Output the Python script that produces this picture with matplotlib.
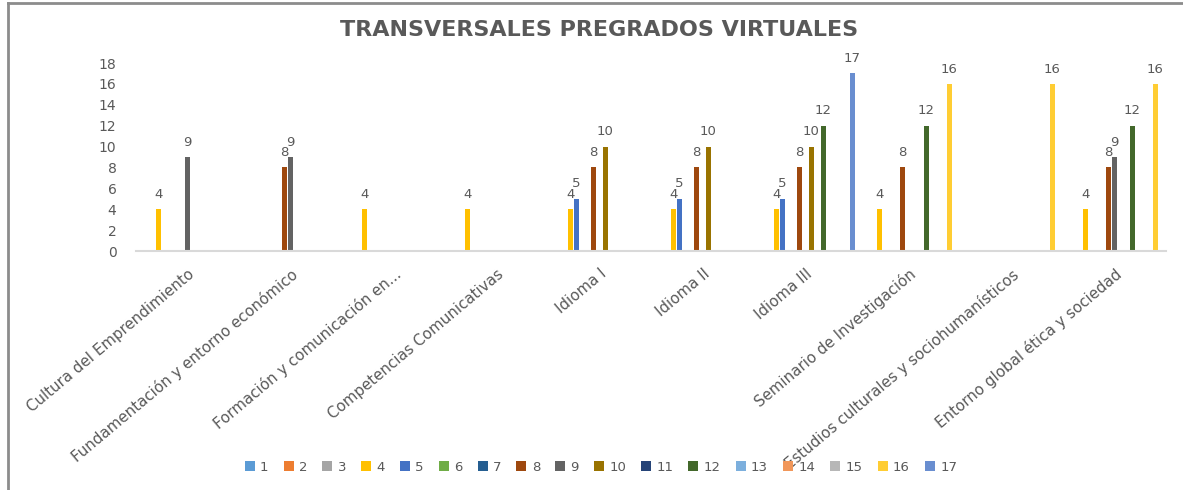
import numpy as np
import matplotlib
matplotlib.use('Agg')
import matplotlib.pyplot as plt
from matplotlib.lines import Line2D
from matplotlib.patches import Patch

# categories (x axis)
categories = ['Cultura del Emprendimiento',
              'Fundamentación y entorno económico',
              'Formación y comunicación en...',
              'Competencias Comunicativas',
              'Idioma I',
              'Idioma II',
              'Idioma III',
              'Seminario de Investigación',
              'Estudios culturales y sociohumanísticos',
              'Entorno global ética y sociedad']

# series values per category (None = no bar)
N = None
s1 = [N, N, N, N, N, N, N, N, N, N]
s2 = [N, N, N, N, N, N, N, N, N, N]
s3 = [N, N, N, N, N, N, N, N, N, N]
s4 = [4, N, 4, 4, 4, 4, 4, 4, N, 4]
s5 = [N, N, N, N, 5, 5, 5, N, N, N]
s6 = [N, N, N, N, N, N, N, N, N, N]
s7 = [N, N, N, N, N, N, N, N, N, N]
s8 = [N, 8, N, N, 8, 8, 8, 8, N, 8]
s9 = [9, 9, N, N, N, N, N, N, N, 9]
s10 = [N, N, N, N, 10, 10, 10, N, N, N]
s11 = [N, N, N, N, N, N, N, N, N, N]
s12 = [N, N, N, N, N, N, 12, 12, N, 12]
s13 = [N, N, N, N, N, N, N, N, N, N]
s14 = [N, N, N, N, N, N, N, N, N, N]
s15 = [N, N, N, N, N, N, N, N, N, N]
s16 = [N, N, N, N, N, N, N, 16, 16, 16]
s17 = [N, N, N, N, N, N, 17, N, N, N]

series_names = [str(i) for i in range(1, 18)]
series = [s1, s2, s3, s4, s5, s6, s7, s8, s9, s10, s11, s12, s13, s14, s15, s16, s17]

colors = ['#5B9BD5', '#ED7D31', '#A5A5A5', '#FFC000', '#4472C4', '#70AD47',
          '#255E91', '#9E480E', '#636363', '#997300', '#264478', '#43682B',
          '#7CAFDD', '#F1975A', '#B7B7B7', '#FFCD33', '#698ED0']

text_col = '#595959'

fig = plt.figure(figsize=(11.83, 4.9), dpi=100)
ax = fig.add_axes([136 / 1183, 1 - 251 / 490, 1030 / 1183, 188 / 490])

x = np.arange(len(categories))
slot = 0.0568
bw = slot * 0.85

for i, vals in enumerate(series):
    xs = [x[j] + (i - 8) * slot for j, v in enumerate(vals) if v is not None]
    ys = [v for v in vals if v is not None]
    if not xs:
        continue
    ax.bar(xs, ys, width=bw, color=colors[i])
    for xx, yy in zip(xs, ys):
        ax.annotate(str(yy), (xx, yy), xytext=(0, 6), textcoords='offset points',
                    ha='center', va='bottom', fontsize=9.5, color=text_col)

ax.set_xlim(-0.5, len(categories) - 0.5)
ax.set_ylim(0, 18)
ax.set_yticks(range(0, 19, 2))
ax.set_xticks(x)
ax.set_xticklabels(categories, rotation=40, ha='right', va='top',
                   rotation_mode='anchor', fontsize=10.8, color=text_col)
ax.tick_params(axis='x', length=0, pad=11)
ax.tick_params(axis='y', length=0, pad=14, labelsize=10, labelcolor=text_col)
for sp in ['top', 'right', 'left']:
    ax.spines[sp].set_visible(False)
ax.spines['bottom'].set_color('#D9D9D9')
ax.spines['bottom'].set_linewidth(1.5)

fig.text(0.506, 1 - 30 / 490, 'TRANSVERSALES PREGRADOS VIRTUALES', ha='center',
         va='center', fontsize=16, fontweight='bold', color=text_col)

handles = [Patch(facecolor=c) for c in colors]
fig.legend(handles, series_names, loc='center',
           bbox_to_anchor=(0.508, 1 - 467 / 490), ncol=17, frameon=False,
           fontsize=9.5, labelcolor=text_col, handlelength=0.75, handleheight=0.75,
           handletextpad=0.4, columnspacing=1.15)

# chart area border (top and left edges visible)
fig.add_artist(Line2D([8 / 1183, 1], [1 - 3 / 490, 1 - 3 / 490], color='#8C8C8C', lw=2))
fig.add_artist(Line2D([8 / 1183, 8 / 1183], [0, 1 - 3 / 490], color='#8C8C8C', lw=2))

fig.savefig('out.png', dpi=100)
